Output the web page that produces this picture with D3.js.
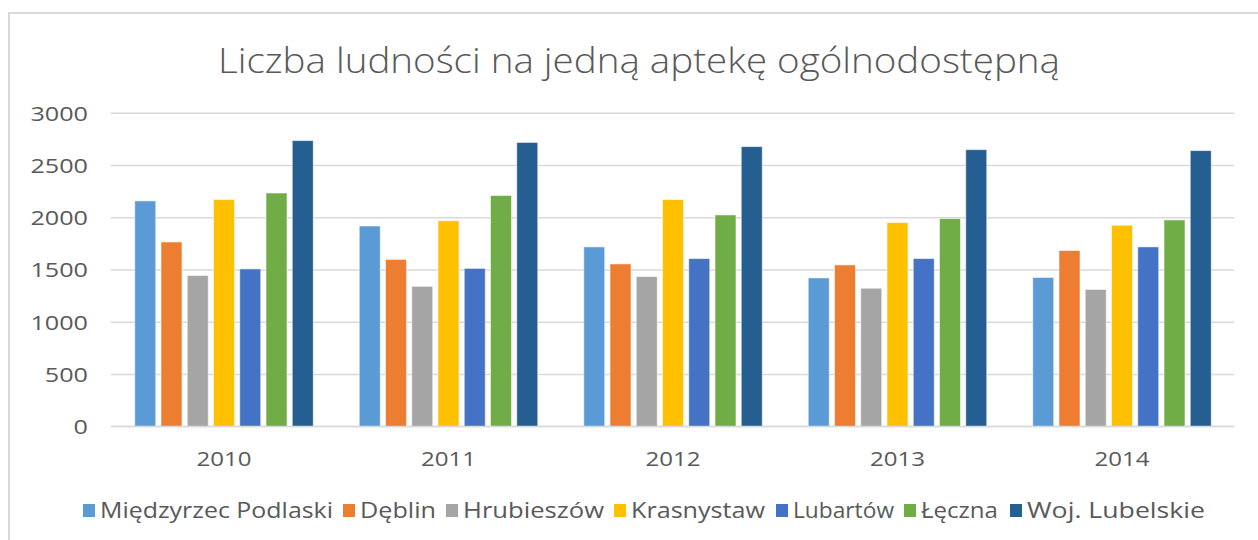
<!DOCTYPE html>
<html>
<head>
<meta charset="utf-8">
<script src="https://cdn.jsdelivr.net/npm/d3@7"></script>
<style>
  html, body { margin: 0; padding: 0; background: #fff; }
  svg { display: block; }
  text { font-family: "Open Sans", "Noto Sans", sans-serif; fill: #595959; }
</style>
</head>
<body>
<svg id="chart" width="1258" height="540"></svg>
<script>
const title = "Liczba ludności na jedną aptekę ogólnodostępną";
const years = ["2010", "2011", "2012", "2013", "2014"];
const seriesNames = ["Międzyrzec Podlaski", "Dęblin", "Hrubieszów", "Krasnystaw", "Lubartów", "Łęczna", "Woj. Lubelskie"];
const seriesColors = ["#5B9BD5", "#ED7D31", "#A5A5A5", "#FFC000", "#4472C4", "#70AD47", "#255E91"];
const miedzyrzec = [2161, 1921, 1721, 1424, 1428];
const deblin     = [1768, 1601, 1558, 1548, 1686];
const hrubieszow = [1447, 1343, 1437, 1325, 1313];
const krasnystaw = [2174, 1971, 2174, 1954, 1928];
const lubartow   = [1510, 1515, 1609, 1609, 1721];
const leczna     = [2237, 2213, 2027, 1992, 1979];
const wojLub     = [2739, 2721, 2681, 2652, 2643];
const yTicks = [0, 500, 1000, 1500, 2000, 2500, 3000];

const seriesValues = [miedzyrzec, deblin, hrubieszow, krasnystaw, lubartow, leczna, wojLub];

const svg = d3.select("#chart");

// chart frame
svg.append("rect")
  .attr("x", 9).attr("y", 13)
  .attr("width", 1300).attr("height", 600)
  .attr("fill", "none").attr("stroke", "#d9d9d9").attr("stroke-width", 2);

// title
svg.append("text")
  .attr("x", 639).attr("y", 73)
  .attr("text-anchor", "middle")
  .attr("font-size", 34)
  .attr("font-weight", 300)
  .attr("textLength", 842)
  .attr("lengthAdjust", "spacingAndGlyphs")
  .text(title);

const plotLeft = 111.75, plotRight = 1234.25;
const y = d3.scaleLinear().domain([0, 3000]).range([426.6, 113.3]);
const x0 = d3.scaleBand().domain(years).range([plotLeft, plotRight]).paddingInner(0).paddingOuter(0);
const x1 = d3.scaleBand().domain(seriesNames).range([0, x0.bandwidth()]).paddingInner(0.2).paddingOuter(0.876);

// gridlines
svg.append("g").selectAll("line")
  .data(yTicks)
  .join("line")
  .attr("x1", plotLeft - 1).attr("x2", plotRight)
  .attr("y1", d => y(d)).attr("y2", d => y(d))
  .attr("stroke", "#d9d9d9").attr("stroke-width", 1.5);

// y axis labels
const yAxis = d3.axisLeft(y).tickValues(yTicks).tickFormat(d3.format("d")).tickSize(0).tickPadding(0);
const yg = svg.append("g").attr("transform", "translate(88,0)").call(yAxis);
yg.select(".domain").remove();
yg.selectAll("text")
  .attr("font-size", 20)
  .attr("fill", "#595959")
  .attr("dy", "0.35em")
  .attr("textLength", d => String(d).length * 14.4)
  .attr("lengthAdjust", "spacingAndGlyphs")
  .style("font-family", "'Open Sans', sans-serif");

// bars
const groups = svg.append("g").selectAll("g")
  .data(years)
  .join("g")
  .attr("transform", d => `translate(${x0(d)},0)`);

groups.selectAll("rect")
  .data((yr, i) => seriesNames.map((s, k) => ({ s, k, v: seriesValues[k][i] })))
  .join("rect")
  .attr("x", d => x1(d.s))
  .attr("width", x1.bandwidth())
  .attr("y", d => y(d.v))
  .attr("height", d => y(0) - y(d.v))
  .attr("fill", d => seriesColors[d.k])
  .attr("stroke", "#ffffff")
  .attr("stroke-opacity", 0.55)
  .attr("stroke-width", 1);

// x axis
const xAxis = d3.axisBottom(x0).tickSize(0).tickPadding(0);
const xg = svg.append("g").attr("transform", `translate(0,${y(0)})`).call(xAxis);
xg.select(".domain").attr("stroke", "#d9d9d9").attr("stroke-width", 1.5)
  .attr("d", `M${plotLeft - 1},0H${plotRight}`);
xg.selectAll("text")
  .attr("font-size", 20)
  .attr("fill", "#595959")
  .attr("y", 0)
  .attr("dy", 39)
  .attr("textLength", 55)
  .attr("lengthAdjust", "spacingAndGlyphs")
  .style("font-family", "'Open Sans', sans-serif");

// legend
const legendSquares = [83, 343, 446, 614, 776, 904, 1010];
const legendTextWidths = [233, 76, 141, 134, 101, 77, 178];
const legend = svg.append("g");
seriesNames.forEach((s, k) => {
  legend.append("rect")
    .attr("x", legendSquares[k]).attr("y", 504)
    .attr("width", 12).attr("height", 13)
    .attr("fill", seriesColors[k]);
  legend.append("text")
    .attr("x", legendSquares[k] + 17).attr("y", 518)
    .attr("font-size", 21)
    .attr("textLength", legendTextWidths[k])
    .attr("lengthAdjust", "spacingAndGlyphs")
    .text(s);
});
</script>
</body>
</html>
